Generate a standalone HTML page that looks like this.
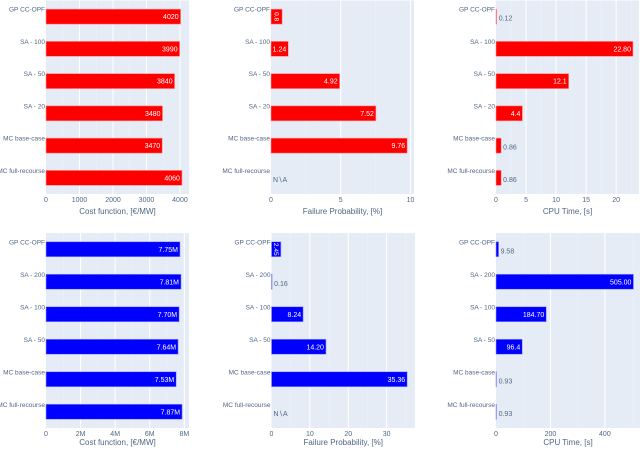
<!DOCTYPE html>
<html><head><meta charset="utf-8"><style>
html,body{margin:0;padding:0;background:#fff;}
svg{display:block;font-family:"Liberation Sans",sans-serif;}
</style></head><body>
<svg id="c" width="640" height="451" xmlns="http://www.w3.org/2000/svg"></svg>
<script>
const catsTop=["GP CC-OPF","SA - 100","SA - 50","SA - 20","MC base-case","MC full-recourse"];
const catsBot=["GP CC-OPF","SA - 200","SA - 100","SA - 50","MC base-case","MC full-recourse"];
const costTop=[4020,3990,3840,3480,3470,4060];
const costTopLabels=["4020","3990","3840","3480","3470","4060"];
const failTop=[0.8,1.24,4.92,7.52,9.76,null];
const failTopLabels=["0.8","1.24","4.92","7.52","9.76","N∖A"];
const cpuTop=[0.12,22.8,12.1,4.4,0.86,0.86];
const cpuTopLabels=["0.12","22.80","12.1","4.4","0.86","0.86"];
const costBot=[7.75e6,7.81e6,7.70e6,7.64e6,7.53e6,7.87e6];
const costBotLabels=["7.75M","7.81M","7.70M","7.64M","7.53M","7.87M"];
const failBot=[2.45,0.16,8.24,14.2,35.36,null];
const failBotLabels=["2.45","0.16","8.24","14.20","35.36","N∖A"];
const cpuBot=[9.58,505,184.7,96.4,0.93,0.93];
const cpuBotLabels=["9.58","505.00","184.70","96.4","0.93","0.93"];
const ticksCostTop=[0,1000,2000,3000,4000];
const ticksFailTop=[0,5,10];
const ticksCpuTop=[0,5,10,15,20];
const ticksCostBot=[0,2e6,4e6,6e6,8e6];
const ticksCostBotLabels=["0","2M","4M","6M","8M"];
const ticksFailBot=[0,10,20,30];
const ticksCpuBot=[0,200,400];

const svg=document.getElementById('c');
const NS="http://www.w3.org/2000/svg";
function mk(tag,attrs,parent){const e=document.createElementNS(NS,tag);for(const k in attrs)e.setAttribute(k,attrs[k]);(parent||svg).appendChild(e);return e;}

function panel(o){
  const g=mk('g',{});
  
  
  const x0=o.x0,x1=o.x1,y0=o.y0,y1=o.y1;
  const sx=v=>x0+(v/o.max)*(x1-x0);
  const bg=mk('rect',{x:x0,y:y0,width:x1-x0,height:y1-y0,fill:'#e5ecf6'},g);
  
  
  o.ticks.forEach((t,i)=>{
    const half=i<o.ticks.length-1?(o.ticks[i]+o.ticks[i+1])/2:t+(o.ticks[1]-o.ticks[0])/2;
    if(sx(half)<x1) mk('line',{x1:sx(half),x2:sx(half),y1:y0,y2:y1,stroke:'#fff','stroke-width':0.5,'stroke-dasharray':'2,2','stroke-opacity':0.7},g);
    if(t>0){const gl=mk('line',{x1:sx(t),x2:sx(t),y1:y0,y2:y1,stroke:'#fff','stroke-width':1},g);
      
      }
    const tl=mk('text',{x:sx(t),y:y1+8,'font-size':7,fill:'#506784','text-anchor':'middle'},g);
    tl.textContent=o.tickLabels?o.tickLabels[i]:String(t);
    
    
  });
  const at=mk('text',{x:(x0+x1)/2,y:y1+o.titleOff,'font-size':8,fill:'#506784','text-anchor':'middle'},g);
  at.textContent=o.title;
  
  
  const step=(y1-y0)/o.cats.length;
  const bh=15;
  o.cats.forEach((c,i)=>{
    const cy=y0+step*(i+0.5);
    const cl=mk('text',{x:x0-1,y:cy-5,'font-size':6.5,fill:'#506784','text-anchor':'end'},g);
    cl.textContent=c;
    
    
    const v=o.vals[i];
    const lab=o.labels[i];
    if(v===null){
      const t=mk('text',{x:x0+2,y:cy+4,'font-size':7,fill:'#506784',style:'font-family:"Liberation Sans","DejaVu Sans",sans-serif'},g);
      t.textContent=lab;
      
      
      return;
    }
    const w=Math.max(sx(v)-x0,0.6);
    const b=mk('rect',{x:x0,y:cy-bh/2,width:w,height:bh,fill:o.color,stroke:o.stroke,'stroke-width':0.6},g);
    
    
    const tw=lab.length*3.4+2;
    let t;
    if(w>=tw){
      t=mk('text',{x:x0+w-2,y:cy+2.5,'font-size':7,fill:'#fff','text-anchor':'end'},g);
    }else if(w>5 && o.rotateSmall){
      t=mk('text',{x:x0+w/2,y:cy,'font-size':6.5,fill:'#fff','text-anchor':'middle','transform':`rotate(90 ${x0+w/2} ${cy}) translate(0 2.3)`},g);
    }else{
      t=mk('text',{x:x0+w+2,y:cy+4,'font-size':7,fill:'#506784'},g);
    }
    t.textContent=lab;
    
    
  });
}
const red='#ff0000',blue='#0000ff';
panel({name:'cost-top-panel',x0:46,x1:189,y0:0.5,y1:194,titleOff:20,max:4270,ticks:ticksCostTop,cats:catsTop,vals:costTop,labels:costTopLabels,title:'Cost function, [€/MW]',color:red,stroke:'#ff9999'});
panel({name:'failure-top-panel',x0:271,x1:414,y0:0.5,y1:194,titleOff:20,max:10.25,ticks:ticksFailTop,cats:catsTop,vals:failTop,labels:failTopLabels,title:'Failure Probability, [%]',color:red,stroke:'#ff9999',rotateSmall:true});
panel({name:'cpu-top-panel',x0:496,x1:639,y0:0.5,y1:194,titleOff:20,max:23.8,ticks:ticksCpuTop,cats:catsTop,vals:cpuTop,labels:cpuTopLabels,title:'CPU Time, [s]',color:red,stroke:'#ff9999'});
panel({name:'cost-bottom-panel',x0:46,x1:189,y0:233,y1:428,titleOff:17,max:8.27e6,ticks:ticksCostBot,tickLabels:ticksCostBotLabels,cats:catsBot,vals:costBot,labels:costBotLabels,title:'Cost function, [€/MW]',color:blue,stroke:'#9999ff'});
panel({name:'failure-bottom-panel',x0:271.5,x1:415,y0:233,y1:428,titleOff:17,max:37.4,ticks:ticksFailBot,cats:catsBot,vals:failBot,labels:failBotLabels,title:'Failure Probability, [%]',color:blue,stroke:'#9999ff',rotateSmall:true});
panel({name:'cpu-bottom-panel',x0:496,x1:640,y0:233,y1:428,titleOff:17,max:529,ticks:ticksCpuBot,cats:catsBot,vals:cpuBot,labels:cpuBotLabels,title:'CPU Time, [s]',color:blue,stroke:'#9999ff'});
</script>
</body></html>
